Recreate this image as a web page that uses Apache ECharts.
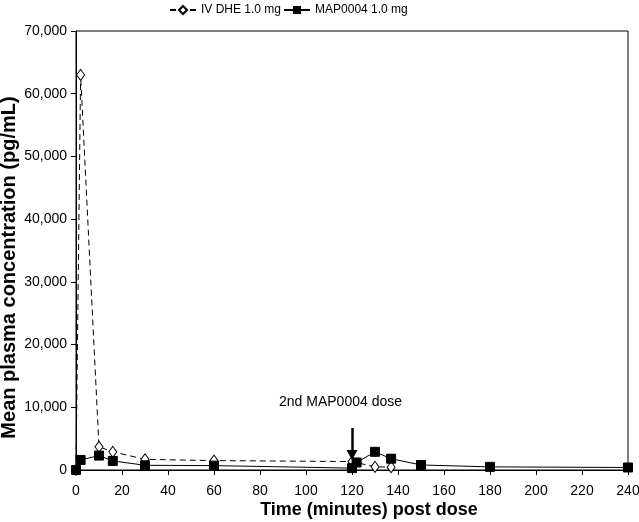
<!DOCTYPE html>
<html><head><meta charset="utf-8">
<script src="https://cdn.jsdelivr.net/npm/echarts@6/dist/echarts.min.js"></script>
<style>html,body{margin:0;padding:0;background:#fff}#c{width:639px;height:522px}</style>
</head><body><div id="c"></div>
<script>
const ivTime = [0, 2, 10, 16, 30, 60, 120, 130, 137];
const ivValues = [0, 63000, 3700, 2900, 1700, 1500, 1350, 500, 450];
const mapTime = [0, 2, 10, 16, 30, 60, 120, 122, 130, 137, 150, 180, 240];
const mapValues = [0, 1600, 2300, 1450, 750, 700, 300, 1200, 2900, 1800, 800, 500, 400];
const xTicks = [0, 240, 20];
const yTicks = [0, 70000, 10000];
const doseTime = 120;
const doseArrow = [6700, 2400];
const doseLabel = '2nd MAP0004 dose';
const doseLabelPos = [115, 10800];

const chart = echarts.init(document.getElementById('c'));
const font = 'Liberation Sans, Arial, sans-serif';
chart.setOption({
  animation: false,
  textStyle: {fontFamily: font},
  legend: {
    top: -1, left: 164, itemGap: 2, itemWidth: 26, itemHeight: 10,
    textStyle: {fontSize: 12, color: '#000', fontFamily: font},
    data: ['IV DHE 1.0 mg', 'MAP0004 1.0 mg']
  },
  grid: {left: 76, right: 11, top: 31, bottom: 52, outerBoundsMode: 'none', containLabel: false,
    show: true, borderColor: '#000', borderWidth: 1},
  xAxis: {
    type: 'value', min: xTicks[0], max: xTicks[1], interval: xTicks[2],
    name: 'Time (minutes) post dose', nameLocation: 'middle', nameGap: 31, nameMoveOverlap: false,
    nameTextStyle: {fontSize: 18, fontWeight: 'bold', color: '#000', fontFamily: font,
      padding: [0, 0, 0, 34]},
    axisLine: {lineStyle: {color: '#000'}},
    axisTick: {inside: false, length: 5, lineStyle: {color: '#000'}},
    axisLabel: {fontSize: 14, color: '#000', margin: 14},
    splitLine: {show: false}
  },
  yAxis: {
    type: 'value', min: yTicks[0], max: yTicks[1], interval: yTicks[2],
    name: 'Mean plasma concentration (pg/mL)', nameLocation: 'middle', nameGap: 57, nameMoveOverlap: false,
    nameTextStyle: {fontSize: 20, fontWeight: 'bold', color: '#000', fontFamily: font,
      padding: [0, 34, 0, 0]},
    axisLine: {show: true, lineStyle: {color: '#000'}},
    axisTick: {show: true, length: 5, lineStyle: {color: '#000'}},
    axisLabel: {fontSize: 14, color: '#000', margin: 9,
      formatter: v => v.toLocaleString('en-US')},
    splitLine: {show: false}
  },
  series: [
    {
      name: 'IV DHE 1.0 mg', type: 'line',
      data: ivTime.map((t, i) => [t, ivValues[i]]),
      symbol: 'diamond', symbolSize: [8, 11],
      lineStyle: {color: '#000', width: 1, type: [6, 4]},
      itemStyle: {color: '#fff', borderColor: '#000', borderWidth: 1},
      z: 2
    },
    {
      name: 'MAP0004 1.0 mg', type: 'line',
      data: mapTime.map((t, i) => [t, mapValues[i]]),
      symbol: 'rect', symbolSize: 9,
      lineStyle: {color: '#000', width: 1},
      itemStyle: {color: '#000', borderColor: '#000'},
      z: 3,
      markLine: {
        silent: true, symbol: ['none', 'triangle'], symbolSize: [11, 10],
        lineStyle: {color: '#000', width: 2.5, type: 'solid'},
        label: {show: false},
        data: [[{coord: [doseTime, doseArrow[0]]}, {coord: [doseTime, doseArrow[1]]}]]
      },
      markPoint: {
        silent: true, symbol: 'circle', symbolSize: 0,
        label: {show: true, formatter: doseLabel, fontSize: 14, color: '#000', fontFamily: font},
        data: [{coord: doseLabelPos}]
      }
    }
  ]
});
</script></body></html>
